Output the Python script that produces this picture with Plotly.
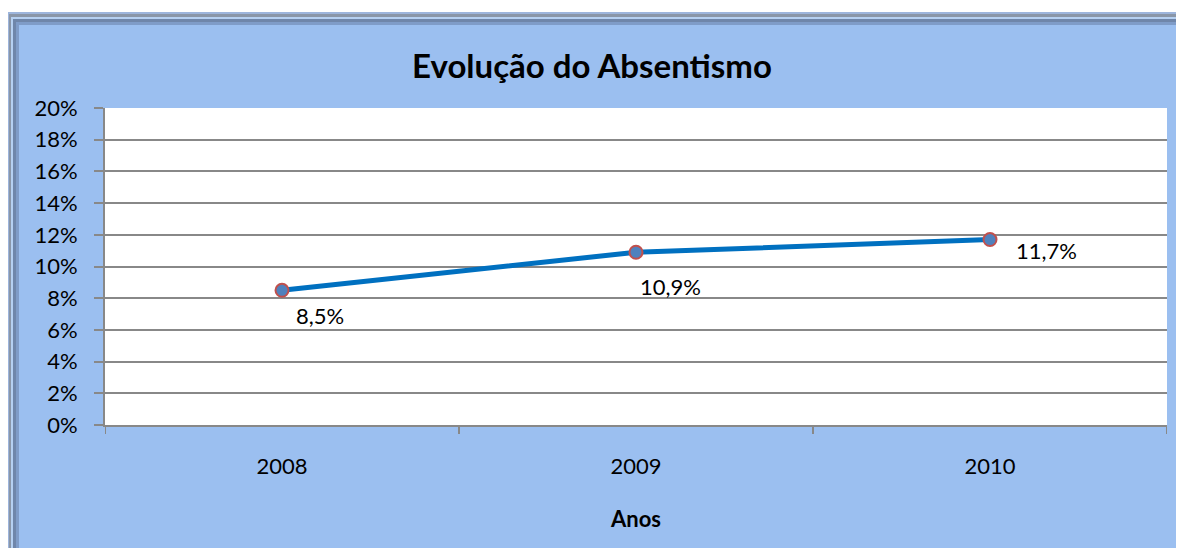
import plotly.graph_objects as go

anos = ["2008", "2009", "2010"]
absentismo = [0.085, 0.109, 0.117]

# page has an 8px body margin; work in figure coordinates
W, H = 1176, 540
L, R, T, B = 97, 1159, 100, 417

def px(x):
    return (x - L) / (R - L)

def py(y):
    return (B - y) / (B - T)

FONT = "Lato"
FS = 22

fig = go.Figure()
fig.add_trace(go.Scatter(
    x=anos, y=absentismo, mode="lines+markers",
    line=dict(color="#0070C0", width=5),
    marker=dict(size=13, color="#4F81BD", line=dict(color="#C0504D", width=2)),
    hoverinfo="skip", showlegend=False,
))

shifts = [(38, -25), (34, -34), (56, -11)]
for i, (v, (dx, dy)) in enumerate(zip(absentismo, shifts)):
    fig.add_annotation(x=i, y=v, xref="x", yref="y",
                       text=f"{v*100:.1f}%".replace(".", ","),
                       showarrow=False, xshift=dx, yshift=dy,
                       font=dict(family=FONT, size=FS, color="#000000"))

shapes = []
frame = [
    (0, 4, "#9DB5DC"),
    (1, 6, "#8A96A8"),
    (3, 9, "#B5D0F2"),
    (5, 11, "#6F86AA"),
    (8, 14, "#7F9CC8"),
    (11, 17, "#9BBFF0"),
]
for x0, y0, col in frame:
    shapes.append(dict(type="rect", xref="paper", yref="paper", layer="below",
                       x0=px(x0), y0=py(H + 20), x1=px(W + 20), y1=py(y0),
                       fillcolor=col, line=dict(width=0)))
shapes.append(dict(type="rect", xref="paper", yref="paper", layer="below",
                   x0=0, y0=0, x1=1, y1=1, fillcolor="#FFFFFF", line=dict(width=0)))
fig.update_layout(shapes=shapes)

fig.update_layout(
    width=W, height=H,
    margin=dict(l=L, r=W - R, t=T, b=H - B),
    paper_bgcolor="#FFFFFF",
    plot_bgcolor="rgba(0,0,0,0)",
    separators=",.",
    title=dict(text="<b>Evolução do Absentismo</b>", x=584 / W, xref="container",
               xanchor="center",
               y=1 - 58 / H, yanchor="middle",
               font=dict(family=FONT, size=33, color="#000000")),
    font=dict(family=FONT, size=FS, color="#000000"),
    xaxis=dict(
        type="category", range=[-0.5, 2.5],
        showgrid=False, showline=True, linecolor="#888888", linewidth=2,
        ticks="", tickfont=dict(size=FS), ticklabelstandoff=21,
        title=dict(text="<b>Anos</b>", font=dict(size=FS), standoff=33),
        zeroline=False,
    ),
    yaxis=dict(
        range=[0, 0.2], dtick=0.02, tickformat=".0%",
        showgrid=True, gridcolor="#888888", gridwidth=2,
        showline=True, linecolor="#888888", linewidth=2,
        ticks="outside", ticklen=9, tickcolor="#888888", tickwidth=2,
        tickfont=dict(size=FS), ticklabelstandoff=12, zeroline=False,
    ),
)

for i in range(len(anos) + 1):
    fig.add_shape(type="line", xref="x", yref="paper", x0=i - 0.5, x1=i - 0.5,
                  y0=0, y1=py(B + 9), line=dict(color="#888888", width=2))

fig.write_html("out.html")
